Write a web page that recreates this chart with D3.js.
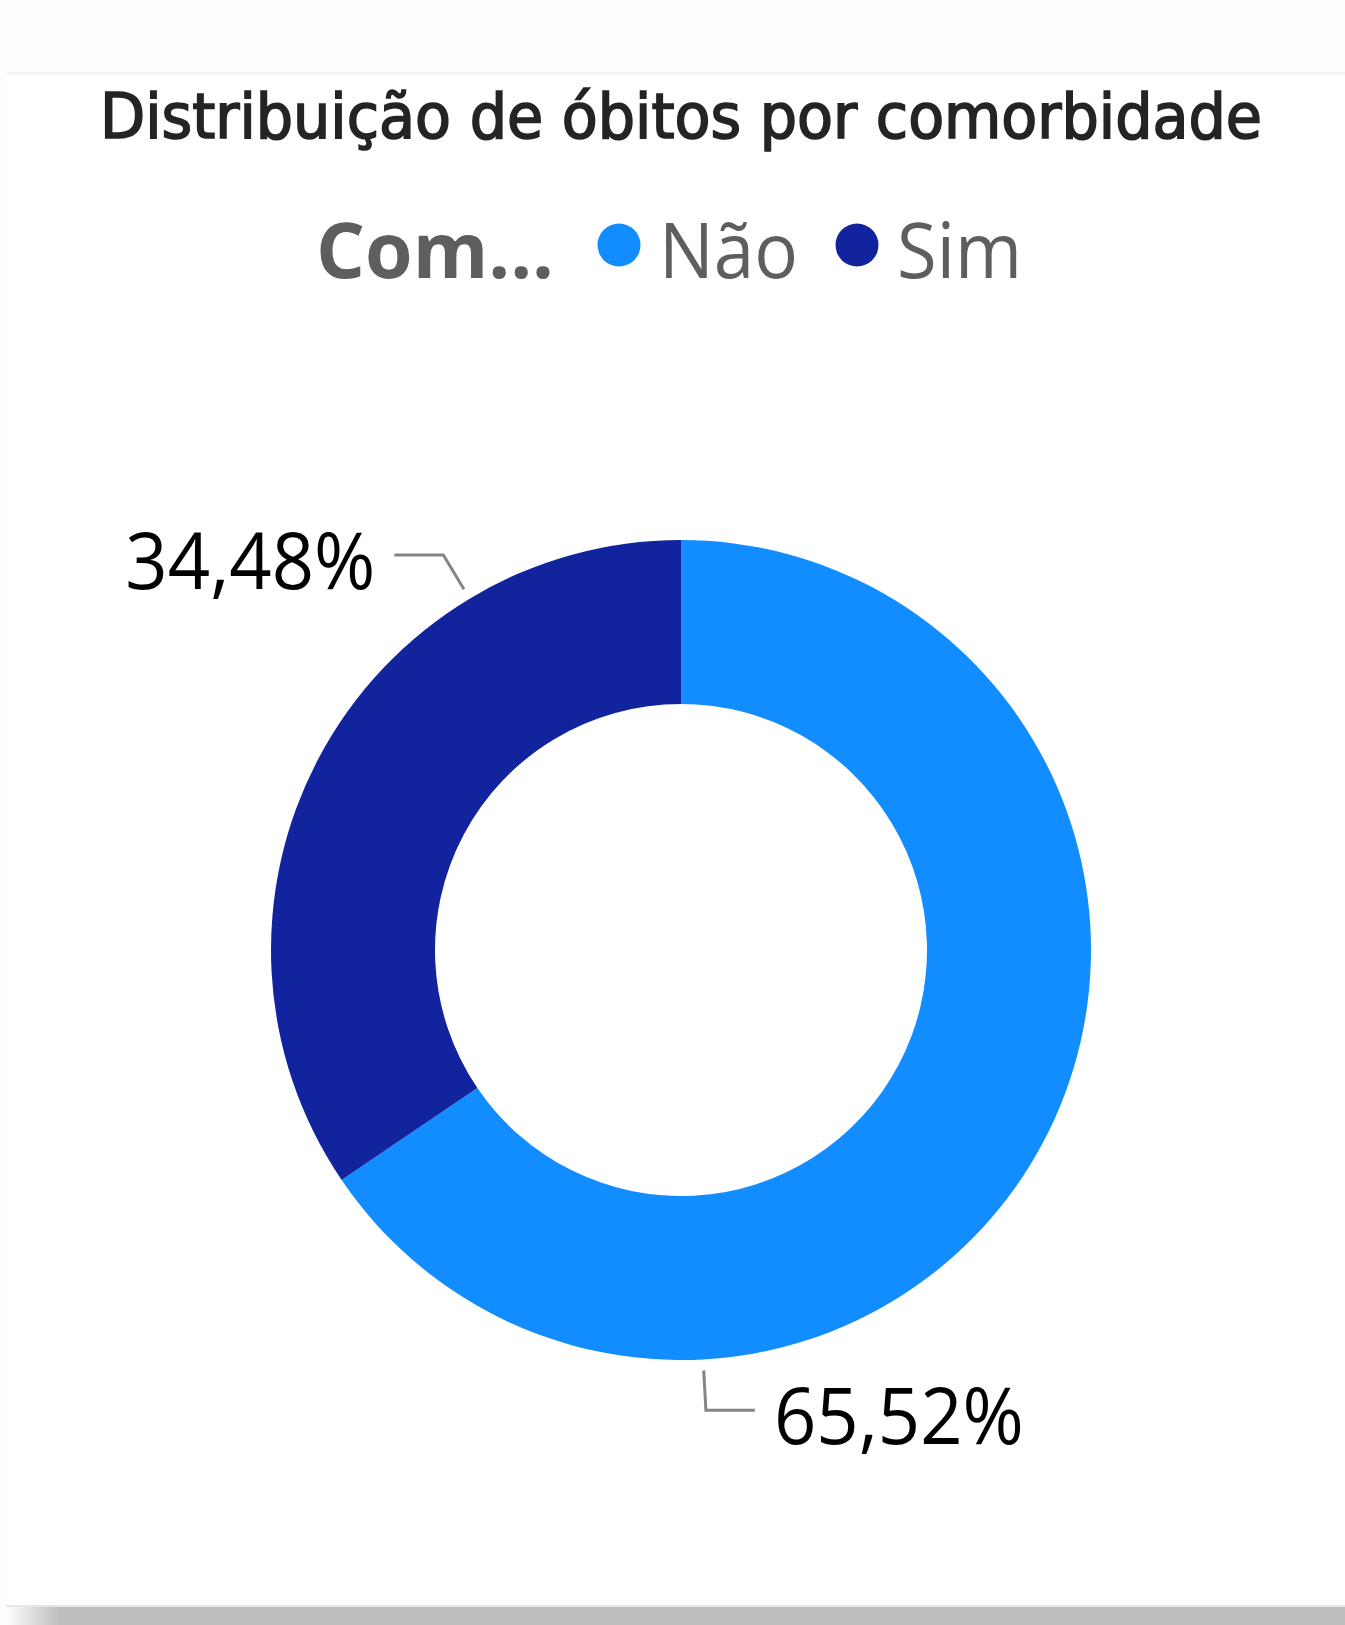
<!DOCTYPE html>
<html><head><meta charset="utf-8">
<script src="https://cdn.jsdelivr.net/npm/d3@7"></script>
<style>
html,body{margin:0;padding:0;background:#fcfcfc;}
svg{display:block;}
</style></head>
<body>
<svg id="chart" width="1345" height="1625"></svg>
<script>
const title = "Distribuição de óbitos por comorbidade";
const legendTitle = "Com...";
const categories = ["Não", "Sim"];
const values = [65.52, 34.48];

const W = 1345, H = 1625;
const svg = d3.select("#chart");

// background card + shadow
const defs = svg.append("defs");
const g1 = defs.append("linearGradient").attr("id","shadowFade").attr("x1","0").attr("x2","1");
g1.append("stop").attr("offset","0").attr("stop-color","#bebebe").attr("stop-opacity",0);
g1.append("stop").attr("offset","0.04").attr("stop-color","#bebebe").attr("stop-opacity",1);
g1.append("stop").attr("offset","1").attr("stop-color","#bebebe").attr("stop-opacity",1);
svg.append("rect").attr("x",0).attr("y",0).attr("width",W).attr("height",H).attr("fill","#fefefe");
svg.append("rect").attr("x",6).attr("y",1607).attr("width",W-6).attr("height",18).attr("fill","url(#shadowFade)");
svg.append("rect").attr("x",6).attr("y",72).attr("width",W-6).attr("height",4).attr("fill","#f5f5f5");
svg.append("rect").attr("x",6).attr("y",75).attr("width",W-6).attr("height",1531).attr("fill","#ffffff");
svg.append("rect").attr("x",6).attr("y",1605).attr("width",W-6).attr("height",2).attr("fill","#e6e6e6");

// title
svg.append("text")
  .attr("x", 100).attr("y", 138)
  .attr("textLength", 1162).attr("lengthAdjust","spacingAndGlyphs")
  .attr("font-family", "'DejaVu Sans Condensed','DejaVu Sans',sans-serif")
  .attr("font-stretch","condensed")
  .attr("font-size", 63)
  .attr("fill", "#252423")
  .attr("stroke", "#252423").attr("stroke-width", 1.6)
  .text(title);

// colors
const color = d3.scaleOrdinal().domain(categories).range(["#118DFF", "#12239E"]);

// legend
const lg = svg.append("g");
lg.append("text").attr("x", 316).attr("y", 278)
  .attr("textLength", 238).attr("lengthAdjust","spacingAndGlyphs")
  .attr("font-family","'Open Sans','Noto Sans',sans-serif").attr("font-weight",700)
  .attr("font-size", 77).attr("fill","#605e5c").text(legendTitle);
const legendX = [619, 857];
const legendTextLen = [139, 125];
categories.forEach((c,i)=>{
  lg.append("circle").attr("cx", legendX[i]).attr("cy", 245).attr("r", 21.5).attr("fill", color(c));
  lg.append("text").attr("x", legendX[i]+40).attr("y", 278)
    .attr("textLength", legendTextLen[i]).attr("lengthAdjust","spacingAndGlyphs")
    .attr("font-family","'Open Sans','Noto Sans',sans-serif")
    .attr("font-size", 77).attr("fill","#605e5c").text(c);
});

// donut
const cx = 681, cy = 950, rOuter = 410, rInner = 246;
const data = categories.map((c,i)=>({cat:c, value: values[i]}));
const pie = d3.pie().sort(null).value(d=>d.value).startAngle(0).endAngle(2*Math.PI);
const arcs = pie(data);
const arc = d3.arc().innerRadius(rInner).outerRadius(rOuter);
const gDonut = svg.append("g").attr("transform", `translate(${cx},${cy})`);
gDonut.selectAll("path").data(arcs).join("path")
  .attr("d", arc).attr("fill", d=>color(d.data.cat));

// labels with leader lines
const fmt = v => v.toFixed(2).replace(".", ",") + "%";
const labelFrac = 0.75;
const pt = (a, r) => [Math.sin(a)*r, -Math.cos(a)*r];
arcs.forEach(d=>{
  const a = d.startAngle + (d.endAngle - d.startAngle)*labelFrac;
  const p0 = pt(a, rOuter + 11);
  const p1 = pt(a, rOuter + 51);
  const dir = (Math.sin(a) < -0.05) ? -1 : 1;
  const p2 = [p1[0] + dir*49, p1[1]];
  gDonut.append("polyline")
    .attr("points", [p0,p1,p2].map(p=>p.join(",")).join(" "))
    .attr("fill","none").attr("stroke","#858585").attr("stroke-width",3);
  gDonut.append("text")
    .attr("x", p2[0] + dir*19).attr("y", p2[1] + 34)
    .attr("text-anchor", dir < 0 ? "end" : "start")
    .attr("font-family","'Open Sans','Noto Sans',sans-serif")
    .attr("font-size", 78).attr("fill","#000000")
    .attr("textLength", 250).attr("lengthAdjust","spacingAndGlyphs")
    .text(fmt(d.data.value));
});
</script>
</body></html>
